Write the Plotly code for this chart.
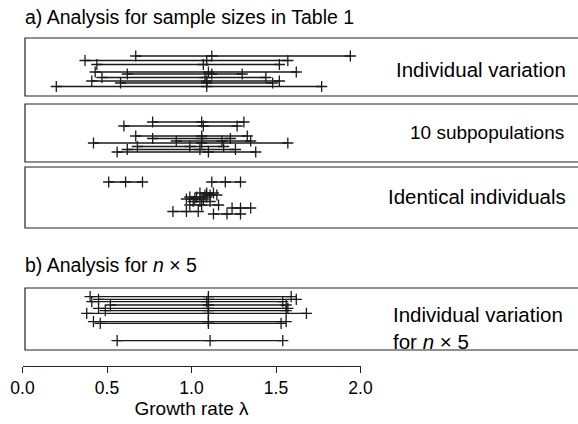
import plotly.graph_objects as go

W, H = 578, 424
PX_PER_UNIT = 169.0
X0_PX = 22.5

# ---------------- data: (low, median, high) growth rates and row level within panel -------------
p1_low = [0.67, 0.37, 0.44, 0.43, 0.62, 0.47, 0.41, 0.58, 0.20]
p1_med = [1.12, 1.09, 1.07, 1.10, 1.12, 1.08, 1.09, 1.09, 1.09]
p1_high = [1.94, 1.57, 1.52, 1.62, 1.30, 1.44, 1.52, 1.48, 1.77]
p1_row = [18, 22.5, 26.5, 34, 36, 39.5, 43, 45, 48.5]

p2_low = [0.77, 0.60, 0.67, 0.77, 0.91, 0.42, 0.68, 0.62, 0.56]
p2_med = [1.06, 1.07, 1.06, 1.06, 1.18, 1.06, 0.99, 1.05, 1.10]
p2_high = [1.31, 1.27, 1.33, 1.23, 1.35, 1.57, 1.19, 1.26, 1.38]
p2_row = [18, 22, 32, 34.5, 37, 39, 42.5, 45.5, 48]

p3_low = [0.51, 1.12, 1.05, 1.08, 0.99, 0.97, 1.01, 0.99, 1.24, 0.89, 1.13]
p3_med = [0.61, 1.20, 1.09, 1.11, 1.03, 1.02, 1.05, 1.06, 1.29, 0.97, 1.21]
p3_high = [0.71, 1.29, 1.13, 1.15, 1.09, 1.07, 1.11, 1.16, 1.35, 1.04, 1.29]
p3_row = [15, 15, 26, 28, 30, 32, 34.5, 38, 41, 44.5, 47]

p4_low = [0.40, 0.45, 0.41, 0.52, 0.45, 0.49, 0.38, 0.42, 0.46, 0.56]
p4_med = [1.10, 1.10, 1.09, 1.10, 1.10, 1.10, 1.10, 1.10, 1.10, 1.11]
p4_high = [1.59, 1.62, 1.54, 1.56, 1.57, 1.56, 1.68, 1.56, 1.53, 1.54]
p4_row = [8.7, 11.3, 13.7, 17, 20.3, 22.7, 25.3, 33.7, 35.3, 52.7]

tick_vals = [0.0, 0.5, 1.0, 1.5, 2.0]
tick_text = ["0.0", "0.5", "1.0", "1.5", "2.0"]

panel_labels = ["Individual variation", "10 subpopulations", "Identical individuals",
                "Individual variation<br>for <i>n</i> × 5"]
heading_a = "a) Analysis for sample sizes in Table 1"
heading_b = "b) Analysis for <i>n</i> × 5"
x_title = "Growth rate λ"

# ---------------- layout helpers (pixel -> paper) ----------------
def py(p):
    return 1 - p / H

def px(p):
    return p / W

panels = [
    (p1_low, p1_med, p1_high, p1_row, 38, 96),
    (p2_low, p2_med, p2_high, p2_row, 104, 162),
    (p3_low, p3_med, p3_high, p3_row, 167, 228),
    (p4_low, p4_med, p4_high, p4_row, 288, 350),
]

fig = go.Figure()
LINE = "#1a1a1a"

for i, (lo, me, hi, rows, top, bot) in enumerate(panels):
    yname = "y" if i == 0 else f"y{i+1}"
    for a, m, b, r in zip(lo, me, hi, rows):
        fig.add_trace(go.Scatter(
            x=[a, m, b], y=[r, r, r], xaxis="x", yaxis=yname,
            mode="lines+markers",
            line=dict(color=LINE, width=1.3),
            marker=dict(symbol="cross-thin", size=8, line=dict(color=LINE, width=1.3)),
            showlegend=False, hoverinfo="skip"))
    key = "yaxis" if i == 0 else f"yaxis{i+1}"
    fig.layout[key] = dict(domain=[py(bot), py(top)], range=[bot - top, 0],
                           visible=False, fixedrange=True, automargin=False)
    # panel frame (extends past right edge)
    fig.add_shape(type="rect", xref="paper", yref="paper",
                  x0=px(25), x1=px(W + 10), y0=py(bot), y1=py(top),
                  line=dict(color="#222", width=1.2), fillcolor="rgba(0,0,0,0)")

# invisible trace for the scale axis
fig.add_trace(go.Scatter(x=[None], y=[None], xaxis="x2", yaxis="y", showlegend=False))

fig.update_layout(
    width=W, height=H,
    margin=dict(l=0, r=0, t=0, b=0, autoexpand=False),
    paper_bgcolor="white", plot_bgcolor="rgba(0,0,0,0)",
    font=dict(family="Liberation Sans, Arial, sans-serif", color="black", size=18),
    xaxis=dict(domain=[0, 1], range=[-X0_PX / PX_PER_UNIT, (W - X0_PX) / PX_PER_UNIT],
               visible=False, fixedrange=True, automargin=False),
    xaxis2=dict(domain=[px(X0_PX), px(X0_PX + 2 * PX_PER_UNIT)], range=[0, 2],
                anchor="free", position=py(366),
                showline=True, linecolor="#222", linewidth=1.2,
                ticks="outside", ticklen=6, tickcolor="#222", tickwidth=1.2,
                tickvals=tick_vals, ticktext=tick_text,
                tickfont=dict(size=17.5, color="black"),
                showgrid=False, zeroline=False, automargin=False,
                title=dict(text=x_title, font=dict(size=19, color="black"), standoff=4),
                fixedrange=True),
)

ann = []
ann.append(dict(text=heading_a, x=px(23), y=py(17), xanchor="left", yanchor="middle", size=19.5))
ann.append(dict(text=heading_b, x=px(23), y=py(265), xanchor="left", yanchor="middle", size=19.5))
ann.append(dict(text=panel_labels[0], x=px(568), y=py(69), xanchor="right", yanchor="middle", size=20.5))
ann.append(dict(text=panel_labels[1], x=px(566), y=py(133), xanchor="right", yanchor="middle", size=19))
ann.append(dict(text=panel_labels[2], x=px(568), y=py(196), xanchor="right", yanchor="middle", size=20.5))
ann.append(dict(text=panel_labels[3], x=px(391), y=py(328), xanchor="left", yanchor="middle",
                align="left", size=20.5))
out = []
for a in ann:
    s = a.pop("size")
    a.update(xref="paper", yref="paper", showarrow=False, font=dict(size=s, color="black"))
    out.append(a)
fig.update_layout(annotations=out)

fig.write_html("out.html")
